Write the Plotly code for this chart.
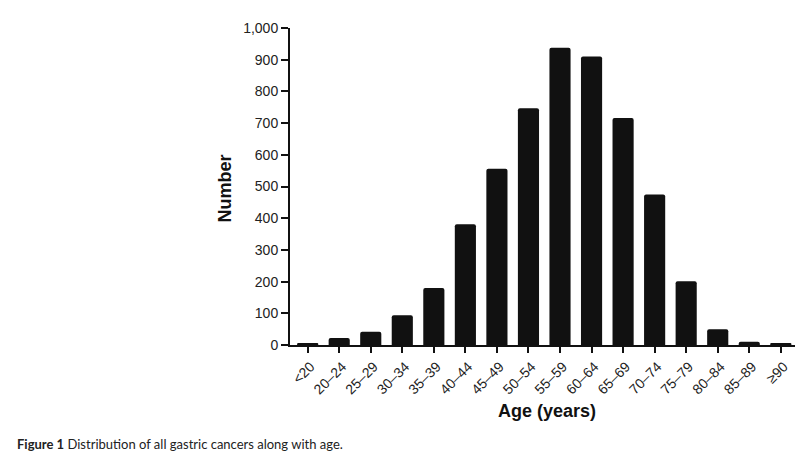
import plotly.graph_objects as go

categories = ["<20", "20–24", "25–29", "30–34", "35–39", "40–44", "45–49", "50–54",
              "55–59", "60–64", "65–69", "70–74", "75–79", "80–84", "85–89", "≥90"]
counts = [5, 22, 42, 94, 180, 381, 556, 747, 938, 910, 716, 475, 201, 50, 10, 5]
y_ticks = list(range(0, 1001, 100))

# page geometry (the html body adds an 8px offset)
X0, X1, Y0, Y1 = 290, 795, 25, 345
L, R, T, B = X0 - 8, 807 - (X1 - 8), Y0 - 8, 461 - (Y1 - 8)
PW, PH = X1 - X0, Y1 - Y0


def px(x):
    return (x - X0) / PW


def py(y):
    return (Y1 - y) / PH


fig = go.Figure()
fig.add_trace(go.Bar(
    x=list(range(len(categories))), y=counts,
    marker=dict(color="#111111", line=dict(width=0), cornerradius=2),
    width=0.67,
))

fig.update_layout(
    width=807, height=461,
    margin=dict(l=L, r=R, t=T, b=B),
    plot_bgcolor="white", paper_bgcolor="white",
    showlegend=False,
    font=dict(family="Liberation Sans, Arial, sans-serif", color="#111111"),
)
fig.update_xaxes(
    tickmode="array", tickvals=list(range(len(categories))), ticktext=categories,
    range=[-0.56, 15.45], tickangle=-45,
    showline=True, linecolor="#111111", linewidth=2,
    ticks="outside", ticklen=6, tickwidth=2, tickcolor="#111111",
    tickfont=dict(size=14, color="#222222"),
    ticklabelshift=3,
    showgrid=False, zeroline=False,
)
fig.update_yaxes(
    range=[0, 1000], tickmode="array", tickvals=y_ticks, tickformat=",",
    showline=True, linecolor="#111111", linewidth=2,
    ticks="outside", ticklen=7, tickwidth=2, tickcolor="#111111",
    tickfont=dict(size=14, color="#222222"),
    showgrid=False, zeroline=False,
)

fig.add_annotation(text="<b>Number</b>", x=px(225), y=py(187),
                   xref="paper", yref="paper", xanchor="center", yanchor="middle",
                   showarrow=False, textangle=-90, font=dict(size=18, color="#111111"))
fig.add_annotation(text="<b>Age (years)</b>", x=px(547), y=py(412),
                   xref="paper", yref="paper", xanchor="center", yanchor="middle",
                   showarrow=False, font=dict(size=18, color="#111111"))
fig.add_annotation(text="<b>Figure 1</b> Distribution of all gastric cancers along with age.",
                   x=px(15), y=py(445),
                   xref="paper", yref="paper", xanchor="left", yanchor="middle",
                   showarrow=False, font=dict(size=13, color="#222222", family="Lato, sans-serif"))

fig.write_html("out.html")
